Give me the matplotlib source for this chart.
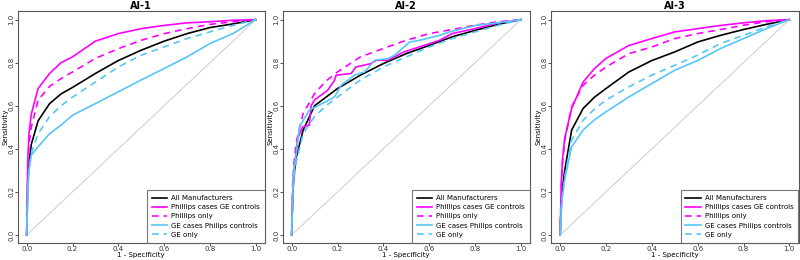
import matplotlib
matplotlib.use("Agg")
import matplotlib.pyplot as plt

# shared false-positive-rate grid
fpr = [0, 0.005, 0.01, 0.02, 0.05, 0.1, 0.15, 0.2, 0.3, 0.4, 0.5, 0.6, 0.7, 0.8, 0.9, 1.0]

titles = ["AI-1", "AI-2", "AI-3"]
labels = ["All Manufacturers", "Phillips cases GE controls", "Phillips only",
          "GE cases Philips controls", "GE only"]

# AI-1
ai1_all = [0, 0.25, 0.33, 0.42, 0.53, 0.61, 0.655, 0.685, 0.75, 0.81, 0.858, 0.90, 0.935, 0.963, 0.98, 1.0]
ai1_ph_ge = [0, 0.35, 0.47, 0.56, 0.68, 0.75, 0.80, 0.827, 0.90, 0.935, 0.958, 0.973, 0.985, 0.99, 0.997, 1.0]
ai1_ph_only = [0, 0.30, 0.42, 0.50, 0.626, 0.69, 0.726, 0.757, 0.82, 0.865, 0.904, 0.935, 0.958, 0.978, 0.99, 1.0]
ai1_ge_ph = [0, 0.20, 0.30, 0.37, 0.41, 0.47, 0.51, 0.556, 0.61, 0.665, 0.72, 0.773, 0.827, 0.889, 0.935, 1.0]
ai1_ge_only = [0, 0.22, 0.30, 0.38, 0.47, 0.55, 0.60, 0.64, 0.71, 0.78, 0.835, 0.873, 0.912, 0.943, 0.973, 1.0]

# AI-2 (the two cross-manufacturer curves are small-sample, stepped)
ai2_all = [0, 0.20, 0.28, 0.36, 0.487, 0.60, 0.64, 0.68, 0.742, 0.796, 0.842, 0.88, 0.92, 0.95, 0.978, 1.0]
ai2_ph_ge_fpr = [0, 0.005, 0.01, 0.026, 0.048, 0.077, 0.085, 0.099, 0.128, 0.157, 0.187, 0.194,
                 0.26, 0.28, 0.347, 0.369, 0.42, 0.49, 0.537, 0.646, 0.7, 0.8, 0.9, 1.0]
ai2_ph_ge = [0, 0.20, 0.30, 0.448, 0.502, 0.51, 0.60, 0.626, 0.649, 0.672, 0.718, 0.742,
             0.75, 0.78, 0.796, 0.811, 0.811, 0.85, 0.866, 0.904, 0.935, 0.958, 0.985, 1.0]
ai2_ph_only = [0, 0.25, 0.33, 0.43, 0.564, 0.657, 0.715, 0.757, 0.827, 0.866, 0.904, 0.935, 0.954, 0.974, 0.99, 1.0]
ai2_ge_ph_fpr = [0, 0.005, 0.01, 0.02, 0.034, 0.077, 0.121, 0.187, 0.216, 0.274, 0.318, 0.362,
                 0.42, 0.449, 0.515, 0.558, 0.646, 0.69, 0.806, 0.9, 1.0]
ai2_ge_ph = [0, 0.20, 0.30, 0.38, 0.502, 0.58, 0.603, 0.641, 0.695, 0.742, 0.757, 0.811,
             0.819, 0.834, 0.896, 0.904, 0.927, 0.943, 0.974, 0.985, 1.0]
ai2_ge_only = [0, 0.18, 0.26, 0.34, 0.47, 0.55, 0.60, 0.64, 0.72, 0.78, 0.827, 0.873, 0.912, 0.943, 0.973, 1.0]

# AI-3
ai3_all = [0, 0.15, 0.22, 0.30, 0.487, 0.587, 0.64, 0.68, 0.757, 0.81, 0.85, 0.896, 0.927, 0.954, 0.978, 1.0]
ai3_ph_ge = [0, 0.25, 0.35, 0.45, 0.587, 0.71, 0.773, 0.82, 0.88, 0.912, 0.943, 0.958, 0.973, 0.985, 0.995, 1.0]
ai3_ph_only = [0, 0.22, 0.33, 0.44, 0.595, 0.695, 0.742, 0.78, 0.842, 0.873, 0.912, 0.935, 0.954, 0.974, 0.99, 1.0]
ai3_ge_ph = [0, 0.12, 0.18, 0.26, 0.41, 0.487, 0.535, 0.572, 0.641, 0.703, 0.765, 0.81, 0.866, 0.912, 0.958, 1.0]
ai3_ge_only = [0, 0.12, 0.19, 0.27, 0.44, 0.533, 0.585, 0.626, 0.688, 0.742, 0.788, 0.835, 0.889, 0.927, 0.966, 1.0]

panels = [
    [(fpr, ai1_all), (fpr, ai1_ph_ge), (fpr, ai1_ph_only), (fpr, ai1_ge_ph), (fpr, ai1_ge_only)],
    [(fpr, ai2_all), (ai2_ph_ge_fpr, ai2_ph_ge), (fpr, ai2_ph_only), (ai2_ge_ph_fpr, ai2_ge_ph), (fpr, ai2_ge_only)],
    [(fpr, ai3_all), (fpr, ai3_ph_ge), (fpr, ai3_ph_only), (fpr, ai3_ge_ph), (fpr, ai3_ge_only)],
]

magenta = "#FF00FF"
cyan = "#55C6F7"
styles = [
    dict(color="black", ls="-"),
    dict(color=magenta, ls="-"),
    dict(color=magenta, ls=(0, (4, 3))),
    dict(color=cyan, ls="-"),
    dict(color=cyan, ls=(0, (4, 3))),
]

fig = plt.figure(figsize=(8, 2.6), dpi=100)
lefts = [17.5, 282.5, 551]
W, H = 800, 260

for left, title, series in zip(lefts, titles, panels):
    ax = fig.add_axes([left / W, 17.5 / H, 247.5 / W, 231.5 / H])
    ax.plot([0, 1], [0, 1], color="#cccccc", lw=0.7, zorder=1)
    for (xs, ys), st, lab in zip(series, styles, labels):
        ax.plot(xs, ys, lw=1.2, label=lab, zorder=3, **st)
    ax.set_xlim(-0.04, 1.04)
    ax.set_ylim(-0.035, 1.04)
    ticks = [0.0, 0.2, 0.4, 0.6, 0.8, 1.0]
    ax.set_xticks(ticks)
    ax.set_yticks(ticks)
    ax.set_xticklabels([f"{t:.1f}" for t in ticks], fontsize=5)
    ax.set_yticklabels([f"{t:.1f}" for t in ticks], fontsize=5, rotation=90, va="center")
    ax.tick_params(length=2, width=0.6, pad=0.5, colors="#333333")
    for sp in ax.spines.values():
        sp.set_color("#555555")
        sp.set_linewidth(0.8)
    ax.set_xlabel("1 - Specificity", fontsize=5, labelpad=0)
    ax.set_ylabel("Sensitivity", fontsize=5, labelpad=0)
    ax.set_title(title, fontsize=7, fontweight="bold", pad=1.5)
    leg = ax.legend(loc="lower right", fontsize=5, frameon=True, fancybox=False,
                    borderaxespad=0, handlelength=2.2, labelspacing=0.45,
                    borderpad=0.7, handletextpad=0.6)
    leg.get_frame().set_edgecolor("#555555")
    leg.get_frame().set_linewidth(0.8)

fig.savefig("out.png", dpi=100, facecolor="white")
